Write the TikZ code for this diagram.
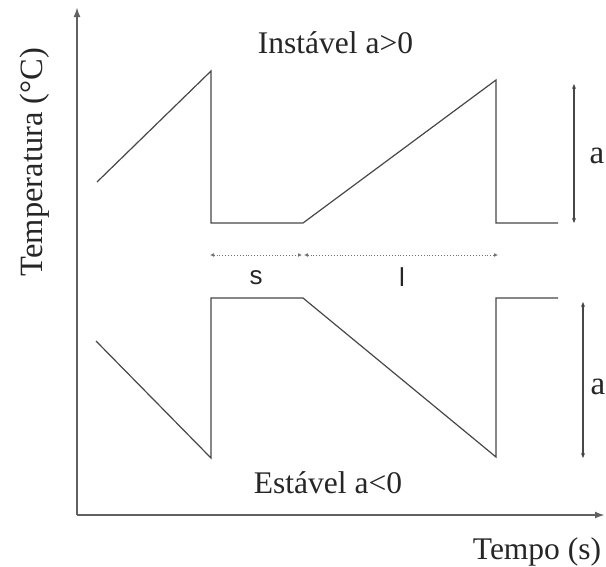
\documentclass[tikz,border=0pt]{standalone}
\usepackage{fontspec}
\setmainfont{Liberation Serif}
\newfontfamily\labsans{Liberation Sans}
\usetikzlibrary{arrows.meta}
\begin{document}
\begin{tikzpicture}[x=1pt,y=-1pt,
  curve/.style={draw=black!72,line width=1.2pt,line join=miter},
  axis/.style={draw=black!62,line width=2pt,-{Latex[length=10pt,width=7pt]}},
  dim/.style={draw=black!55,line width=0.9pt,dotted,{Latex[length=4pt,width=4pt]}-{Latex[length=4pt,width=4pt]}},
  amp/.style={draw=black!72,line width=1.3pt,{Stealth[length=5pt,width=4pt]}-{Stealth[length=5pt,width=4pt]}},
  big/.style={font=\fontsize{31.5}{31.5}\selectfont,text=black!85,inner sep=0pt},
  sml/.style={font=\labsans\fontsize{26}{26}\selectfont,text=black!85,inner sep=0pt}]
\useasboundingbox (0,0) rectangle (606,566);
% axes
\coordinate (O) at (77,515);
\coordinate (Ytop) at (77,7);
\coordinate (Xend) at (605,515);
\draw[axis] (O) -- (Ytop);
\draw[axis] (O) -- (Xend);
% upper curve
\coordinate (u0) at (97,182);
\coordinate (u1) at (211,71);
\coordinate (u2) at (211,223);
\coordinate (u3) at (303,223);
\coordinate (u4) at (496,80);
\coordinate (u5) at (496,223);
\coordinate (u6) at (558,223);
\draw[curve] (u0) -- (u1) -- (u2) -- (u3) -- (u4) -- (u5) -- (u6);
% lower curve
\coordinate (d0) at (96,341);
\coordinate (d1) at (211,458);
\coordinate (d2) at (211,298);
\coordinate (d3) at (303,298);
\coordinate (d4) at (496,457);
\coordinate (d5) at (496,298);
\coordinate (d6) at (558,298);
\draw[curve] (d0) -- (d1) -- (d2) -- (d3) -- (d4) -- (d5) -- (d6);
% dimension lines
\coordinate (s0) at (210,255);
\coordinate (s1) at (302,255);
\coordinate (l0) at (304,255);
\coordinate (l1) at (498,255);
\draw[dim] (s0) -- (s1);
\draw[dim] (l0) -- (l1);
\node[sml] (slab) at (256,278) {s};
\node[sml] (llab) at (402,277) {l};
% amplitude arrows
\coordinate (a0) at (574,84);
\coordinate (a1) at (574,223);
\coordinate (b0) at (583,302);
\coordinate (b1) at (583,458);
\draw[amp] (a0) -- (a1);
\draw[amp] (b0) -- (b1);
\node[big,font=\fontsize{33}{33}\selectfont] (alab1) at (597,156) {a};
\node[big,font=\fontsize{33}{33}\selectfont] (alab2) at (598,387) {a};
% texts
\node[big,anchor=base] (inst) at (335.5,53) {Instável a>0};
\node[big,anchor=base] (est) at (328,493) {Estável a<0};
\node[big,anchor=base] (tempo) at (537,559) {Tempo (s)};
\node[big,anchor=base,rotate=90,font=\fontsize{32.5}{32.5}\selectfont] (temp) at (42,162) {Temperatura (°C)};
\end{tikzpicture}
\end{document}
